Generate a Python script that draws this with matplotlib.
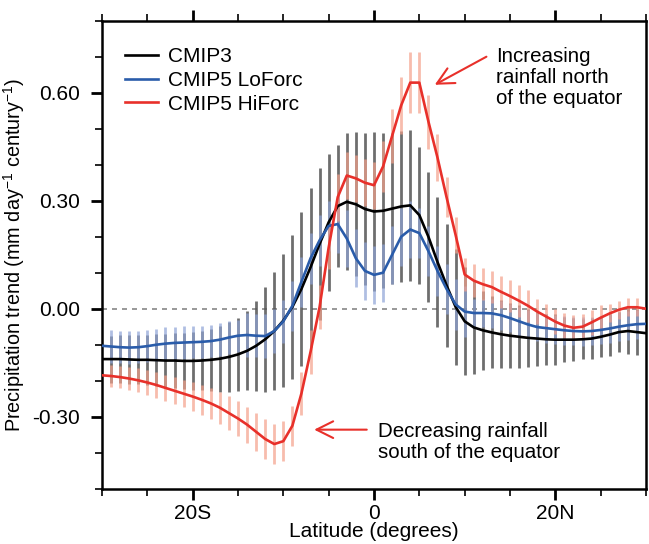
import matplotlib
matplotlib.use("Agg")
import matplotlib.pyplot as plt
import numpy as np

plt.rcParams['font.family'] = ['Liberation Sans', 'DejaVu Sans']
plt.rcParams['mathtext.fontset'] = 'custom'
plt.rcParams['mathtext.rm'] = 'Liberation Sans'
plt.rcParams['mathtext.it'] = 'Liberation Sans:italic'

# latitude grid, 1 degree steps
lat = np.arange(-30, 31)

# zonal mean precipitation trends (mm/day/century)
cmip3 = [-0.140, -0.140, -0.140, -0.141, -0.142, -0.142, -0.143, -0.144, -0.144, -0.145,
         -0.145, -0.144, -0.142, -0.139, -0.134, -0.127, -0.117, -0.103, -0.085, -0.062,
         -0.033, 0.005, 0.055, 0.115, 0.180, 0.240, 0.285, 0.297, 0.290, 0.277,
         0.270, 0.272, 0.278, 0.284, 0.287, 0.260, 0.200, 0.130, 0.065, 0.005,
         -0.035, -0.052, -0.060, -0.066, -0.071, -0.075, -0.078, -0.081, -0.083, -0.085,
         -0.086, -0.086, -0.086, -0.085, -0.083, -0.078, -0.072, -0.065, -0.062, -0.065,
         -0.068]
cmip5_lo = [-0.103, -0.105, -0.107, -0.108, -0.107, -0.104, -0.100, -0.097, -0.095, -0.094,
            -0.093, -0.092, -0.090, -0.086, -0.080, -0.075, -0.073, -0.075, -0.076, -0.062,
            -0.035, 0.008, 0.075, 0.140, 0.190, 0.230, 0.235, 0.195, 0.140, 0.105,
            0.094, 0.100, 0.150, 0.200, 0.220, 0.210, 0.160, 0.105, 0.055, 0.012,
            -0.008, -0.012, -0.012, -0.013, -0.018, -0.026, -0.035, -0.044, -0.051, -0.054,
            -0.057, -0.060, -0.062, -0.063, -0.062, -0.059, -0.055, -0.050, -0.046, -0.043,
            -0.042]
cmip5_hi = [-0.185, -0.187, -0.190, -0.194, -0.199, -0.205, -0.212, -0.220, -0.228, -0.236,
            -0.244, -0.253, -0.263, -0.275, -0.290, -0.305, -0.322, -0.342, -0.362, -0.376,
            -0.368, -0.325, -0.235, -0.120, 0.005, 0.170, 0.310, 0.370, 0.362, 0.350,
            0.343, 0.395, 0.480, 0.565, 0.628, 0.628, 0.520, 0.420, 0.310, 0.205,
            0.095, 0.078, 0.068, 0.060, 0.047, 0.035, 0.022, 0.008, -0.008, -0.022,
            -0.036, -0.047, -0.053, -0.050, -0.038, -0.025, -0.013, -0.003, 0.004, 0.004,
            0.000]

# model spread (half range) at each latitude
cmip3_err = [0.065, 0.065, 0.066, 0.067, 0.068, 0.070, 0.072, 0.074, 0.076, 0.078,
             0.080, 0.083, 0.087, 0.091, 0.096, 0.102, 0.110, 0.125, 0.145, 0.165,
             0.185, 0.200, 0.215, 0.220, 0.210, 0.190, 0.170, 0.190, 0.200, 0.210,
             0.220, 0.215, 0.210, 0.210, 0.210, 0.190, 0.180, 0.180, 0.170, 0.160,
             0.150, 0.130, 0.110, 0.100, 0.094, 0.090, 0.087, 0.080, 0.075, 0.070,
             0.070, 0.062, 0.060, 0.056, 0.057, 0.056, 0.058, 0.056, 0.064, 0.063,
             0.063]
cmip5_lo_err = [0.045] * 16 + [0.060] * 5 + [0.070] * 5 + [0.080] * 9 + [0.070] * 6 + [0.040] * 20
cmip5_hi_err = [0.030, 0.030, 0.031, 0.032, 0.033, 0.034, 0.035, 0.036, 0.037, 0.038,
                0.040, 0.041, 0.043, 0.045, 0.047, 0.049, 0.050, 0.052, 0.055, 0.055,
                0.055, 0.055, 0.060, 0.060, 0.060, 0.060, 0.065, 0.065, 0.065, 0.065,
                0.065, 0.070, 0.075, 0.080, 0.085, 0.085, 0.075, 0.065, 0.055, 0.050,
                0.045, 0.045, 0.045, 0.045, 0.045, 0.045, 0.045, 0.045, 0.035, 0.035,
                0.035, 0.035, 0.035, 0.035, 0.035, 0.035, 0.025, 0.025, 0.025, 0.025,
                0.025]

series = [
    ('CMIP3', cmip3, cmip3_err, 'black', '#555555', 0.85),
    ('CMIP5 LoForc', cmip5_lo, cmip5_lo_err, '#2a5caa', '#8ea3d6', 0.7),
    ('CMIP5 HiForc', cmip5_hi, cmip5_hi_err, '#e8302a', '#f5a08a', 0.7),
]

fig = plt.figure(figsize=(6.49, 5.44), dpi=100)
ax = fig.add_axes([102 / 649, 1 - 488.7 / 544, 544 / 649, 468 / 544])

ax.axhline(0, color='#888888', lw=1.2, ls=(0, (3, 3)), zorder=1)

# spread bars, skipping the edge latitudes
for name, vals, err, lc, bc, a in series:
    v = np.array(vals)[1:-1]
    e = np.array(err)[1:-1]
    ax.vlines(lat[1:-1], v - e, v + e, color=bc, lw=2.0, alpha=a, zorder=2)

handles = []
for name, vals, err, lc, bc, a in series:
    h, = ax.plot(lat, vals, color=lc, lw=1.9, label=name, zorder=3)
    handles.append(h)

ax.set_xlim(-30, 30)
ax.set_ylim(-0.5, 0.8)
ax.set_xticks([-20, 0, 20])
ax.set_xticklabels(['20S', '0', '20N'])
ax.set_xticks(np.arange(-30, 31, 5), minor=True)
ax.set_yticks([-0.3, 0.0, 0.3, 0.6])
ax.set_yticklabels(['-0.30', '0.00', '0.30', '0.60'])
ax.set_yticks(np.arange(-0.5, 0.81, 0.1), minor=True)

ax.tick_params(which='both', direction='out', top=True, right=False, labelsize=15)
ax.tick_params(which='major', length=8, width=2, pad=3)
ax.tick_params(which='minor', length=5, width=1.2)
ax.tick_params(axis='y', which='major', pad=8)
for s in ax.spines.values():
    s.set_linewidth(1.8)

ax.set_ylabel('Precipitation trend (mm day$^{-1}$ century$^{-1}$)', fontsize=14.3)
ax.yaxis.set_label_coords(-0.137, 0.5)
ax.set_xlabel('Latitude (degrees)', fontsize=15)
ax.xaxis.set_label_coords(0.5, -0.071)

ax.legend(handles=handles, loc='upper left', bbox_to_anchor=(0.042, 0.943),
          frameon=False, fontsize=15, handlelength=1.6, handletextpad=0.45,
          labelspacing=0.22, borderpad=0, borderaxespad=0)

red = '#e8302a'
arrow = dict(arrowstyle='->, head_length=0.6, head_width=0.3', color=red, lw=1.5,
             mutation_scale=20, shrinkA=0, shrinkB=0)
ax.annotate('', xy=(6.7, 0.622), xytext=(12.4, 0.70), arrowprops=arrow)
ax.text(13.5, 0.726, 'Increasing\nrainfall north\nof the equator', fontsize=14.8,
        ha='left', va='top', linespacing=1.12)
ax.annotate('', xy=(-6.6, -0.336), xytext=(-0.8, -0.336), arrowprops=arrow)
ax.text(0.4, -0.316, 'Decreasing rainfall\nsouth of the equator', fontsize=14.8,
        ha='left', va='top', linespacing=1.12)

fig.savefig('out.png', dpi=100)
